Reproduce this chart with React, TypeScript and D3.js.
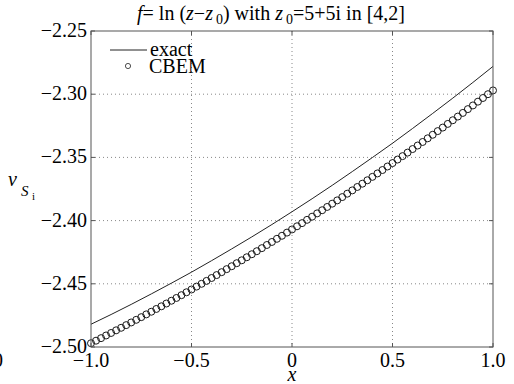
import React, { useRef, useEffect } from 'react';
import { select, scaleLinear, line } from 'd3';

const xTicks = [-1, -0.5, 0, 0.5, 1];
const xTickLabels = ['\u22121.0', '\u22120.5', '0', '0.5', '1.0'];
const yTicks = [-2.5, -2.45, -2.4, -2.35, -2.3, -2.25];
const yTickLabels = ['\u22122.50', '\u22122.45', '\u22122.40', '\u22122.35', '\u22122.30', '\u22122.25'];

// exact solution, sampled every 0.1
const exactX = [
  -1, -0.9, -0.8, -0.7, -0.6, -0.5, -0.4, -0.3, -0.2, -0.1, 0,
  0.1, 0.2, 0.3, 0.4, 0.5, 0.6, 0.7, 0.8, 0.9, 1
];
const exactV = [
  -2.482, -2.4743, -2.4663, -2.458, -2.4495, -2.4408, -2.4317, -2.4224, -2.4129, -2.4031, -2.393,
  -2.3827, -2.3721, -2.3612, -2.3501, -2.3388, -2.3271, -2.3152, -2.3031, -2.2907, -2.278
];

// CBEM values, 81 nodes
const cbemX = [
  -1, -0.975, -0.95, -0.925, -0.9, -0.875, -0.85, -0.825, -0.8, -0.775,
  -0.75, -0.725, -0.7, -0.675, -0.65, -0.625, -0.6, -0.575, -0.55, -0.525,
  -0.5, -0.475, -0.45, -0.425, -0.4, -0.375, -0.35, -0.325, -0.3, -0.275,
  -0.25, -0.225, -0.2, -0.175, -0.15, -0.125, -0.1, -0.075, -0.05, -0.025,
  0, 0.025, 0.05, 0.075, 0.1, 0.125, 0.15, 0.175, 0.2, 0.225,
  0.25, 0.275, 0.3, 0.325, 0.35, 0.375, 0.4, 0.425, 0.45, 0.475,
  0.5, 0.525, 0.55, 0.575, 0.6, 0.625, 0.65, 0.675, 0.7, 0.725,
  0.75, 0.775, 0.8, 0.825, 0.85, 0.875, 0.9, 0.925, 0.95, 0.975, 1
];
const cbemV = [
  -2.497, -2.495, -2.493, -2.4909, -2.4889, -2.4868, -2.4848, -2.4827, -2.4806, -2.4785,
  -2.4764, -2.4742, -2.4721, -2.4699, -2.4678, -2.4656, -2.4634, -2.4612, -2.459, -2.4567,
  -2.4545, -2.4522, -2.45, -2.4477, -2.4454, -2.4431, -2.4408, -2.4384, -2.4361, -2.4337,
  -2.4314, -2.429, -2.4266, -2.4242, -2.4218, -2.4193, -2.4169, -2.4144, -2.412, -2.4095,
  -2.407, -2.4045, -2.402, -2.3994, -2.3969, -2.3943, -2.3918, -2.3892, -2.3866, -2.384,
  -2.3814, -2.3787, -2.3761, -2.3734, -2.3708, -2.3681, -2.3654, -2.3627, -2.36, -2.3572,
  -2.3545, -2.3517, -2.349, -2.3462, -2.3434, -2.3406, -2.3378, -2.3349, -2.3321, -2.3292,
  -2.3264, -2.3235, -2.3206, -2.3177, -2.3148, -2.3118, -2.3089, -2.3059, -2.303, -2.3, -2.297
];

const W = 514;
const H = 384;
const marginLeft = 91;
const marginRight = 493;
const marginTop = 31;
const marginBottom = 347;
const FONT = 'Times New Roman';

const xScale = scaleLinear().domain([-1, 1]).range([marginLeft, marginRight]);
const yScale = scaleLinear().domain([-2.5, -2.25]).range([marginBottom, marginTop]);

const Label = ({ children, ...rest }) => (
  <text fontFamily={FONT} style={{ fontFamily: `'${FONT}'` }} fontSize={20} {...rest}>
    {children}
  </text>
);

const App = () => {
  const svgRef = useRef(null);

  useEffect(() => {
    const svg = select(svgRef.current);

    const lineGen = line()
      .x(d => xScale(d[0]))
      .y(d => yScale(d[1]));
    svg
      .select('.exact')
      .attr('d', lineGen(exactX.map((x, i) => [x, exactV[i]])));

    svg
      .select('.cbem')
      .selectAll('circle')
      .data(cbemX.map((x, i) => [x, cbemV[i]]))
      .join('circle')
      .attr('cx', d => xScale(d[0]))
      .attr('cy', d => yScale(d[1]))
      .attr('r', 3.5);
  }, []);

  const tl = 4;

  return (
    <svg
      ref={svgRef}
      width={W}
      height={H}
      style={{ position: 'absolute', left: 0, top: 0, background: '#fff' }}
    >
      <rect x={0} y={0} width={W} height={H} fill="#fff" />
      <g stroke="#888" strokeWidth={1} strokeDasharray="1,3">
        {xTicks.slice(1, -1).map(d => (
          <line key={'gx' + d} x1={xScale(d)} x2={xScale(d)} y1={marginTop} y2={marginBottom} />
        ))}
        {yTicks.slice(1, -1).map(d => (
          <line key={'gy' + d} x1={marginLeft} x2={marginRight} y1={yScale(d)} y2={yScale(d)} />
        ))}
      </g>
      <path className="exact" fill="none" stroke="#222" strokeWidth={1} />
      <g className="cbem" fill="none" stroke="#1a1a1a" strokeWidth={1} />
      <rect
        x={marginLeft}
        y={marginTop}
        width={marginRight - marginLeft}
        height={marginBottom - marginTop}
        fill="none"
        stroke="#555"
        strokeWidth={1}
      />
      <g stroke="#555" strokeWidth={1}>
        {xTicks.map(d => (
          <g key={'tx' + d}>
            <line x1={xScale(d)} x2={xScale(d)} y1={marginBottom} y2={marginBottom - tl} />
            <line x1={xScale(d)} x2={xScale(d)} y1={marginTop} y2={marginTop + tl} />
          </g>
        ))}
        {yTicks.map(d => (
          <g key={'ty' + d}>
            <line x1={marginLeft} x2={marginLeft + tl} y1={yScale(d)} y2={yScale(d)} />
            <line x1={marginRight} x2={marginRight - tl} y1={yScale(d)} y2={yScale(d)} />
          </g>
        ))}
      </g>
      {xTicks.map((d, i) => (
        <Label key={'lx' + d} x={xScale(d)} y={marginBottom + 20} textAnchor="middle">
          {xTickLabels[i]}
        </Label>
      ))}
      {yTicks.map((d, i) => (
        <Label key={'ly' + d} x={marginLeft - 4} y={yScale(d) + 6} textAnchor="end">
          {yTickLabels[i]}
        </Label>
      ))}
      {/* stray glyph of neighbouring panel */}
      <Label x={3} y={367} textAnchor="end">0</Label>

      {/* legend */}
      <line x1={110} x2={147} y1={50} y2={50} stroke="#222" strokeWidth={1} />
      <Label x={150} y={56}>exact</Label>
      <circle cx={128} cy={66} r={2.6} fill="none" stroke="#222" strokeWidth={0.8} />
      <Label x={149} y={73}>CBEM</Label>

      {/* title */}
      <Label x={137} y={20}>
        <tspan fontStyle="italic">f</tspan>
        <tspan>= ln (</tspan>
        <tspan fontStyle="italic">z</tspan>
        <tspan>{'\u2212'}</tspan>
        <tspan fontStyle="italic">z</tspan>
        <tspan fontSize={14} dy={4} dx={3}>0</tspan>
        <tspan dy={-4}>{') with '}</tspan>
        <tspan fontStyle="italic">z</tspan>
        <tspan fontSize={14} dy={4} dx={3}>0</tspan>
        <tspan dy={-4}>=5+5i in [4,2]</tspan>
      </Label>

      {/* axis labels */}
      <Label x={8} y={186} fontStyle="italic">v</Label>
      <Label x={21} y={196} fontSize={15} fontStyle="italic">S</Label>
      <Label x={32} y={200} fontSize={11}>i</Label>
      <Label x={292} y={381} fontStyle="italic" textAnchor="middle">x</Label>
    </svg>
  );
};

export default App;
